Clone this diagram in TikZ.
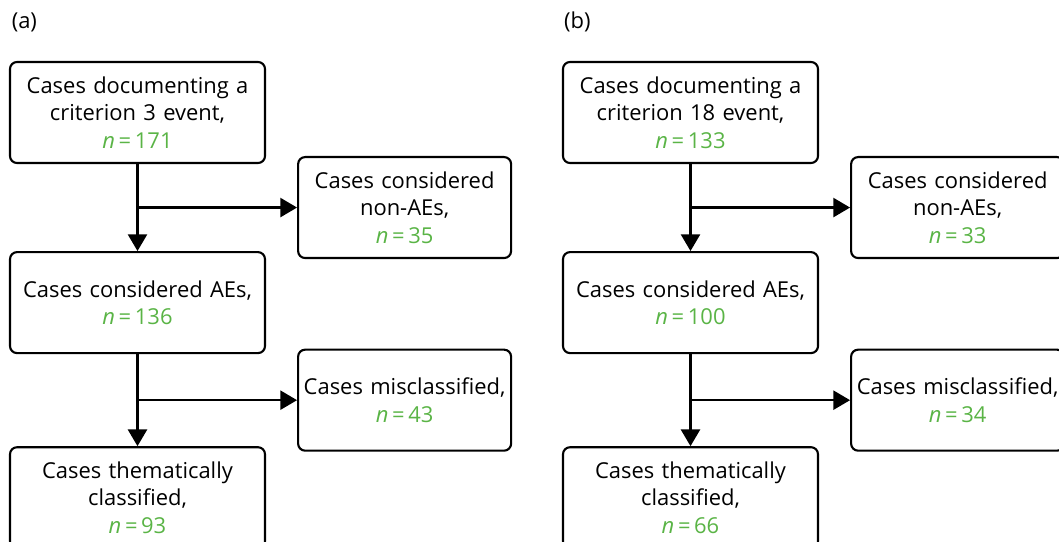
\documentclass[tikz,border=0pt]{standalone}
\usepackage{fontspec}
\setmainfont{Open Sans}
\usepackage{xcolor}
\usetikzlibrary{positioning,calc,arrows.meta}
\definecolor{ngreen}{RGB}{90,180,70}
\newcommand{\nval}[1]{\textcolor{ngreen}{\textit{n}\,=\,#1}}

\begin{document}
\begin{tikzpicture}[
    box/.style={draw, line width=1.5pt, rounded corners=5pt, align=center,
        text width=6.3cm, minimum width=6.375cm, minimum height=2.525cm,
        inner sep=0pt, font=\fontsize{15.6}{19.6}\selectfont},
    sidebox/.style={box, text width=5.3cm, minimum width=5.325cm},
    arr/.style={-{Triangle[length=0.42cm,width=0.48cm]}, line width=1.5pt},
    lbl/.style={font=\fontsize{15.6}{19.6}\selectfont, inner sep=0pt}]
    \useasboundingbox (0,0) rectangle (26.475,-13.55);

    % panel (a)
    \node [lbl] (panela) at (0.61,-0.56) {(a)};
    \node [box] (crit3) at (3.4375,-2.8125) {Cases documenting a\\criterion 3 event,\\\nval{171}};
    \node [box, below=2.175cm of crit3] (aes3) {Cases considered AEs,\\\nval{136}};
    \node [box, below=2.3cm of aes3] (them3) {Cases thematically\\classified,\\\nval{93}};
    \coordinate (mida1) at ($(crit3.south east)!0.5!(aes3.north east)$);
    \coordinate (mida2) at ($(aes3.south east)!0.5!(them3.north east)$);
    \node [sidebox, right=0.775cm of mida1] (nonae3) {Cases considered\\non-AEs,\\\nval{35}};
    \node [sidebox, right=0.775cm of mida2] (miscl3) {Cases misclassified,\\\nval{43}};
    \draw [arr] (crit3) -- (aes3);
    \draw [arr] (crit3.south |- nonae3.west) -- (nonae3.west);
    \draw [arr] (aes3) -- (them3);
    \draw [arr] (aes3.south |- miscl3.west) -- (miscl3.west);

    % panel (b)
    \node [lbl] (panelb) at (14.435,-0.56) {(b)};
    \node [box] (crit18) at (17.2625,-2.8125) {Cases documenting a\\criterion 18 event,\\\nval{133}};
    \node [box, below=2.175cm of crit18] (aes18) {Cases considered AEs,\\\nval{100}};
    \node [box, below=2.3cm of aes18] (them18) {Cases thematically\\classified,\\\nval{66}};
    \coordinate (midb1) at ($(crit18.south east)!0.5!(aes18.north east)$);
    \coordinate (midb2) at ($(aes18.south east)!0.5!(them18.north east)$);
    \node [sidebox, right=0.775cm of midb1] (nonae18) {Cases considered\\non-AEs,\\\nval{33}};
    \node [sidebox, right=0.775cm of midb2] (miscl18) {Cases misclassified,\\\nval{34}};
    \draw [arr] (crit18) -- (aes18);
    \draw [arr] (crit18.south |- nonae18.west) -- (nonae18.west);
    \draw [arr] (aes18) -- (them18);
    \draw [arr] (aes18.south |- miscl18.west) -- (miscl18.west);
\end{tikzpicture}
\end{document}
